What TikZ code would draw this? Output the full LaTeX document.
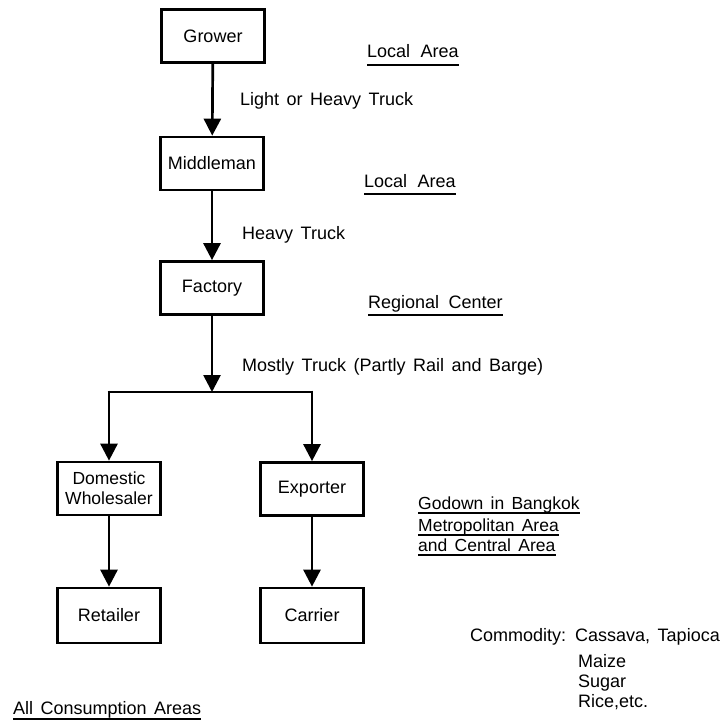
\documentclass[tikz,border=0pt]{standalone}
\usepackage{fontspec}
\setmainfont{Liberation Sans}[WordSpace=1.5]
\usetikzlibrary{arrows.meta}
\begin{document}
\begin{tikzpicture}[x=1pt,y=-1pt,
  font=\fontsize{18}{21}\selectfont,
  stage/.style={draw,line width=2.7pt,rectangle,inner sep=0pt,
    minimum width=103pt,minimum height=53pt,align=center},
  flow/.style={line width=2.7pt,-{Triangle[width=17pt,length=17pt]}},
  link/.style={line width=2.7pt},
  lbl/.style={anchor=base west,inner sep=0pt},
  uline/.style={line width=1.8pt}]
\useasboundingbox (0,0) rectangle (721,722);

% chain of stages
\node[stage] (grower)    at (213,36)    {Grower};
\node[stage] (middleman) at (212,163.5) {Middleman};
\node[stage] (factory)   at (212,288)   {Factory};
\node[stage,font=\fontsize{17.5}{20}\selectfont] (wholesaler) at (109,488.5) {Domestic\\Wholesaler};
\node[stage] (exporter)  at (312,489)   {Exporter};
\node[stage,minimum height=55pt] (retailer) at (109,615.5) {Retailer};
\node[stage,minimum height=55pt] (carrier)  at (312,615.5) {Carrier};

% split point below the factory
\coordinate (fork)  at (212,392);
\coordinate (forkl) at (109,392);
\coordinate (forkr) at (312,392);

% connectors
\draw[flow] (grower) -- (middleman);
\draw[flow] (middleman) -- (factory);
\draw[flow] (factory) -- (fork);
\draw[link] ([xshift=-1.35pt]forkl) -- ([xshift=1.35pt]forkr);
\draw[flow] ([yshift=1.35pt]forkl) -- (wholesaler);
\draw[flow] ([yshift=1.35pt]forkr) -- (exporter);
\draw[flow] (wholesaler) -- (retailer);
\draw[flow] (exporter) -- (carrier);

% transport labels
\node[lbl] (t1) at (240,106) {Light or Heavy Truck};
\node[lbl] (t2) at (242,239) {Heavy Truck};
\node[lbl] (t3) at (242,371) {Mostly Truck (Partly Rail and Barge)};

% area labels, underlined
\node[lbl] (a1) at (367,58)  {Local\hspace{3pt} Area};
\node[lbl] (a2) at (364,187) {Local\hspace{3pt} Area};
\node[lbl] (a3) at (368,308) {Regional\hspace{2pt} Center};
\begin{scope}[font=\fontsize{17.5}{20}\selectfont]
\node[lbl] (g1) at (418,509) {Godown in Bangkok};
\node[lbl] (g2) at (418,531) {Metropolitan Area};
\node[lbl] (g3) at (418,551) {and Central Area};
\end{scope}
\node[lbl] (all) at (13,714) {All Consumption Areas};

\foreach \n/\d in {a1/7,a2/7,a3/7,all/5}
  \draw[uline] ([yshift=-\d pt]\n.base west) -- ([yshift=-\d pt]\n.base east);
\foreach \n in {g1,g2,g3}
  \draw[uline] ([yshift=-4pt]\n.base west) -- ([yshift=-4pt]\n.base east);

% commodities
\node[lbl] (com) at (470,641) {Commodity:};
\node[lbl] (c1)  at (575,641) {Cassava, Tapioca};
\node[lbl] (c2)  at (578,667) {Maize};
\node[lbl] (c3)  at (578,687) {Sugar};
\node[lbl] (c4)  at (578,707) {Rice,etc.};
\end{tikzpicture}
\end{document}
